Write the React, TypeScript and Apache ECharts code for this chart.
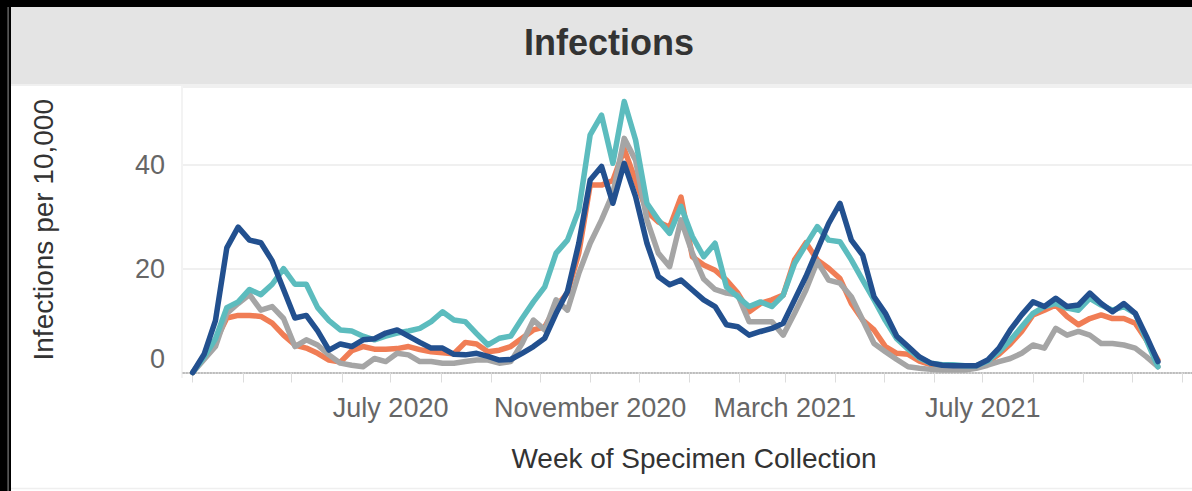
import React, { useEffect, useRef } from "react";
import * as echarts from "echarts";

// Weekly series, first week starting 2020-03-01
const firstWeek = "2020-03-01";

const seriesNames = ["Group A", "Group B", "Group C", "Group D"];
const seriesColors = ["#f07d55", "#a5a5a5", "#5cbcbe", "#22508f"];

const orangeValues = [
  0, 3, 6, 10.5, 11, 11, 10.8, 9.5, 7.2, 5.3, 4.7, 3.7, 2.4, 2, 4.2, 5, 4.5, 4.5, 4.6, 5,
  4.4, 4, 3.8, 3.6, 5.8, 5.5, 4, 4.3, 5, 6.6, 8.2, 8.8, 12.7, 15.3, 23, 36.1, 36.1, 37, 43, 37,
  31, 29, 28, 33.8, 22.3, 20.7, 19.7, 17.8, 15.3, 11.7, 13.3, 14, 14.9, 21.7, 25, 21.7, 20.1, 18.1, 13.3, 10.1,
  8.2, 5, 3.7, 3.5, 2.2, 1.5, 1.3, 1.2, 1.2, 1.3, 2, 3.5, 5.5, 7.9, 11.1, 12, 13, 10.8, 9.2, 10.4,
  11.1, 10.4, 10.4, 9.5, 6.2, 2.4,
];

const grayValues = [
  0, 2.5, 5, 11.4, 13.3, 15, 12, 12.7, 10.4, 5, 6.3, 5.3, 3.4, 1.8, 1.4, 1.1, 2.7, 2.1, 3.7, 3.4,
  2.1, 2.1, 1.8, 1.8, 2.1, 2.4, 2.4, 1.8, 2.1, 5.6, 10.1, 8.2, 14, 12, 19.1, 24.9, 29.4, 34.5, 45.1, 40.9,
  29.4, 23, 20.4, 29.4, 23, 18, 16, 15.3, 14.9, 9.8, 9.8, 9.8, 7.2, 11.4, 15.9, 21.4, 17.8, 17.2, 14.6, 10.1,
  5.6, 4, 2.5, 1.1, 0.8, 0.6, 0.5, 0.5, 0.5, 0.8, 1.4, 2.1, 2.7, 3.7, 5.3, 4.7, 8.5, 7.2, 7.9, 7.2,
  5.6, 5.6, 5.3, 4.7, 3, 1.1,
];

const tealValues = [
  0, 3, 6.5, 12.5, 13.6, 16, 15, 17, 20, 17, 17, 12.5, 10, 8.2, 8, 7, 6.3, 7, 7.6, 8,
  8.5, 9.8, 11.7, 10.1, 9.8, 7.5, 5.3, 6.6, 7, 10.4, 13.6, 16.5, 23, 25.5, 31.3, 45.8, 49.6, 40.3, 52.2, 44.8,
  32.6, 29.4, 26.8, 32, 26.2, 22.3, 24.9, 16.5, 14.6, 12.7, 13.6, 12.7, 14.9, 21, 24.6, 28.1, 25.5, 25.2, 21.7, 17.8,
  14, 10, 6.5, 4.5, 2.8, 1.8, 1.5, 1.5, 1.3, 1.3, 2.2, 4, 6.2, 8.8, 11.4, 12.7, 13.3, 12.4, 12, 14.3,
  13, 12, 12.7, 11.4, 6.2, 1.1,
];

const blueValues = [
  0, 3.5, 10, 24, 28, 25.5, 25, 21.5, 16, 10.5, 11, 8, 4.3, 5.5, 5, 6.3, 6.5, 7.6, 8.2, 7,
  5.8, 4.7, 4.7, 3.5, 3.4, 3.7, 3.1, 2.4, 2.5, 3.7, 5, 6.6, 11.4, 15.6, 24.9, 37.1, 39.7, 32.6, 40.3, 33.9,
  24.9, 18.5, 16.9, 17.8, 15.9, 14, 12.7, 9.2, 8.8, 7.2, 7.9, 8.5, 9.5, 14, 18.5, 23.6, 28.7, 32.6, 25.5, 22.6,
  14.6, 11.4, 7, 5, 3, 1.8, 1.4, 1.3, 1.3, 1.3, 2.4, 4.7, 8.2, 11.1, 13.6, 12.7, 14.3, 12.7, 13, 15.3,
  13.3, 11.7, 13.3, 11.4, 6.9, 2.1,
];

const tickLabelDates = ["2020-07-01", "2020-11-01", "2021-03-01", "2021-07-01"];
const tickLabels = ["July 2020", "November 2020", "March 2021", "July 2021"];
const yTickValues = [0, 20, 40];

const axisStart = "2020-02-24";
const axisEnd = "2021-11-07";

const DAY = 86400000;
const FONT = "'Liberation Sans', Arial, Helvetica, sans-serif";

export default function App() {
  const ref = useRef<HTMLDivElement>(null);

  useEffect(() => {
    if (!ref.current) return;
    const chart = echarts.init(ref.current, null, { renderer: "svg" });

    const t0 = Date.parse(firstWeek);
    const weeks = blueValues.map((_, i) => t0 + i * 7 * DAY);
    const allValues = [orangeValues, grayValues, tealValues, blueValues];

    // month-start tick marks
    const monthTicks: number[] = [];
    for (let y = 2020, m = 2; y < 2021 || (y === 2021 && m <= 10); ) {
      monthTicks.push(Date.UTC(y, m, 1));
      m++;
      if (m > 11) { m = 0; y++; }
    }
    const labelTimes = tickLabelDates.map((d) => Date.parse(d));

    const series = allValues.map((vals, k) => ({
      name: seriesNames[k],
      type: "line",
      data: vals.map((v, i) => [weeks[i], v]),
      showSymbol: false,
      symbol: "none",
      clip: false,
      lineStyle: { color: seriesColors[k], width: 5.5, cap: "round", join: "round" },
      itemStyle: { color: seriesColors[k] },
      z: 2 + k,
    }));

    chart.setOption({
      animation: false,
      backgroundColor: "#ffffff",
      textStyle: { fontFamily: FONT },
      grid: { left: 183, right: 0, top: 87, bottom: 491 - 372.5, containLabel: false },
      xAxis: {
        type: "value",
        min: Date.parse(axisStart),
        max: Date.parse(axisEnd),
        axisLine: { show: true, lineStyle: { color: "#a8a8a8", width: 1.5, type: "dotted" } },
        axisTick: {
          show: true,
          customValues: monthTicks,
          length: 10,
          lineStyle: { color: "#dcdcdc", width: 1 },
        },
        splitLine: { show: false },
        axisLabel: {
          customValues: labelTimes,
          formatter: (v: number) => {
            const idx = labelTimes.findIndex((t) => Math.abs(t - v) < DAY);
            return idx >= 0 ? tickLabels[idx] : "";
          },
          fontSize: 27,
          color: "#666666",
          margin: 22,
          fontFamily: FONT,
        },
      },
      yAxis: {
        type: "value",
        min: 0,
        max: 55,
        interval: 20,
        axisLine: { show: false },
        axisTick: { show: false },
        splitLine: {
          show: true,
          lineStyle: { color: ["transparent", "#ebebeb", "#ebebeb", "#ebebeb"], width: 1.5 },
        },
        axisLabel: {
          customValues: yTickValues,
          formatter: (v: number) => (v === 0 ? "{up|0}" : String(v)),
          rich: {
            up: { fontSize: 27, color: "#666666", fontFamily: FONT, padding: [0, 0, 28, 0] },
          },
          fontSize: 27,
          color: "#666666",
          margin: 18,
          fontFamily: FONT,
        },
        name: "Infections per 10,000",
        nameLocation: "middle",
        nameRotate: 90,
        nameGap: 126,
        nameTextStyle: { fontSize: 28, color: "#333333", fontFamily: FONT },
      },
      graphic: [
        { type: "rect", shape: { x: 0, y: 0, width: 1192, height: 7 }, style: { fill: "#000" }, silent: true },
        { type: "rect", shape: { x: 0, y: 0, width: 11, height: 491 }, style: { fill: "#000" }, silent: true },
        { type: "rect", shape: { x: 7.5, y: 7, width: 1.2, height: 484 }, style: { fill: "#7a7a7a" }, silent: true },
        { type: "rect", shape: { x: 11, y: 7, width: 1181, height: 77 }, style: { fill: "#e4e4e4" }, silent: true },
        { type: "rect", shape: { x: 11, y: 84, width: 1181, height: 2 }, style: { fill: "#f0f0f0" }, silent: true },
        { type: "line", shape: { x1: 182, y1: 86, x2: 182, y2: 378 }, style: { stroke: "#efefef", lineWidth: 1.5 }, silent: true },
        { type: "line", shape: { x1: 11, y1: 488.5, x2: 1192, y2: 488.5 }, style: { stroke: "#efefef", lineWidth: 1.5 }, silent: true },
        {
          type: "text",
          x: 609,
          y: 42,
          style: {
            text: "Infections",
            fontSize: 36,
            fontWeight: "bold",
            fontFamily: FONT,
            fill: "#333333",
            align: "center",
            verticalAlign: "middle",
          },
          silent: true,
        },
        {
          type: "text",
          x: 694,
          y: 458,
          style: {
            text: "Week of Specimen Collection",
            fontSize: 28,
            fontFamily: FONT,
            fill: "#333333",
            align: "center",
            verticalAlign: "middle",
          },
          silent: true,
        },
      ],
      series,
    });

    return () => chart.dispose();
  }, []);

  return (
    <div
      ref={ref}
      style={{ position: "absolute", left: 0, top: 0, width: 1192, height: 491 }}
    />
  );
}
